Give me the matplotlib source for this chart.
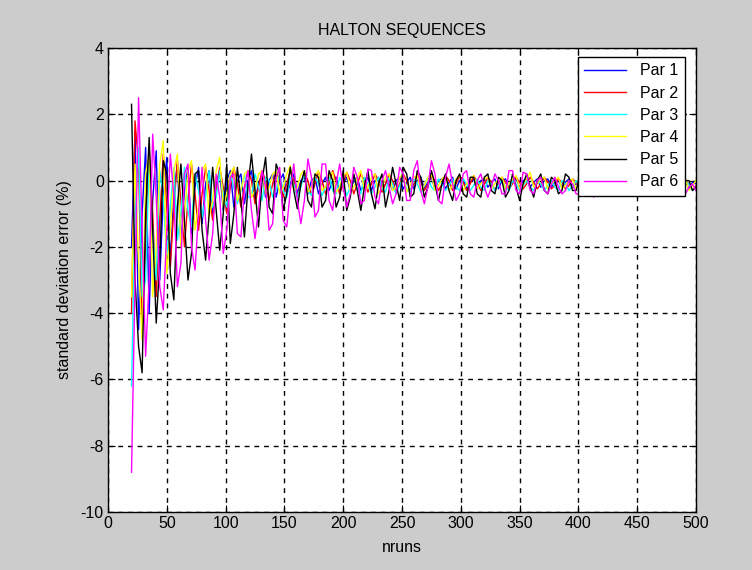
import numpy as np
import matplotlib
matplotlib.use("Agg")
import matplotlib.pyplot as plt

plt.rcParams['font.family'] = ['Liberation Sans', 'DejaVu Sans']
plt.rcParams['axes.unicode_minus'] = False

# run counts sampled every 3 runs from 20 to 500
nruns = list(range(20, 501, 3))

par1 = [
    -2.0, 1.5, -4.5, -1.0, 1.0, -4.0, -0.6, 0.9, -3.0, -0.5,
    0.7, -2.5, -0.4, 0.5, -2.0, -0.3, 0.4, -1.6, -0.2, 0.4,
    -1.3, -0.1, 0.3, -1.1, -0.1, 0.3, -0.9, 0.0, 0.3, -0.8,
    0.0, 0.2, -0.7, 0.0, 0.3, -0.6, -0.1, 0.2, -0.5, 0.0,
    0.2, -0.5, 0.0, 0.2, -0.4, -0.1, 0.2, -0.4, 0.0, 0.1,
    -0.4, 0.0, 0.1, -0.4, -0.1, 0.1, -0.3, 0.0, 0.1, -0.3,
    -0.1, 0.1, -0.3, 0.0, 0.1, -0.3, -0.1, 0.1, -0.3, 0.0,
    0.1, -0.3, -0.1, 0.1, -0.3, 0.0, 0.1, -0.25, -0.05, 0.1,
    -0.25, 0.0, 0.1, -0.25, -0.05, 0.1, -0.25, 0.0, 0.05, -0.25,
    -0.05, 0.1, -0.25, 0.0, 0.05, -0.25, -0.05, 0.05, -0.25, 0.0,
    0.05, -0.2, -0.05, 0.05, -0.25, 0.0, 0.05, -0.2, -0.05, 0.05,
    -0.2, 0.0, 0.05, -0.2, -0.05, 0.05, -0.2, 0.0, 0.05, -0.2,
    -0.05, 0.0, -0.2, -0.05, 0.05, -0.2, -0.1, 0.0, -0.2, -0.05,
    0.0, -0.2, -0.1, 0.0, -0.25, -0.05, 0.0, -0.2, -0.1, 0.0,
    -0.25, -0.05, 0.0, -0.2, -0.1, 0.0, -0.25, -0.05, 0.0, -0.2,
    -0.1, 0.0, -0.25, -0.05, 0.0, -0.2, -0.1, 0.0, -0.25, -0.05,
    -0.1,
]

par2 = [
    -4.0, 1.8, 0.5, -4.5, -2.0, 0.9, -1.0, -3.5, -1.2, 0.8,
    -0.8, -2.6, -0.8, 0.6, -0.6, -2.0, -0.6, 0.5, -0.4, -1.5,
    -0.4, 0.4, -0.3, -1.2, -0.3, 0.4, -0.2, -1.0, -0.2, 0.4,
    -0.1, -0.8, -0.2, 0.3, 0.0, -0.7, -0.2, 0.3, 0.0, -0.6,
    -0.1, 0.3, 0.0, -0.5, -0.1, 0.3, 0.0, -0.5, -0.1, 0.25,
    0.0, -0.45, -0.1, 0.25, 0.0, -0.4, -0.1, 0.3, 0.0, -0.4,
    -0.1, 0.25, 0.0, -0.4, -0.1, 0.2, 0.0, -0.35, -0.1, 0.2,
    0.0, -0.35, -0.1, 0.2, 0.0, -0.35, -0.1, 0.2, 0.0, -0.3,
    -0.1, 0.2, 0.0, -0.3, -0.1, 0.15, 0.0, -0.3, -0.1, 0.15,
    0.0, -0.3, -0.1, 0.15, -0.05, -0.3, -0.1, 0.15, -0.05, -0.3,
    -0.1, 0.1, -0.05, -0.3, -0.1, 0.1, -0.05, -0.25, -0.1, 0.1,
    -0.05, -0.25, -0.1, 0.1, -0.05, -0.25, -0.1, 0.1, -0.05, -0.25,
    -0.15, 0.05, -0.05, -0.25, -0.15, 0.05, -0.05, -0.25, -0.15, 0.05,
    -0.1, -0.3, -0.15, 0.05, -0.1, -0.3, -0.15, 0.05, -0.1, -0.3,
    -0.15, 0.0, -0.1, -0.3, -0.15, 0.0, -0.1, -0.3, -0.15, 0.0,
    -0.1, -0.3, -0.15, 0.0, -0.1, -0.3, -0.15, 0.0, -0.1, -0.3,
    -0.15,
]

par3 = [
    -6.2, -1.0, 1.0, -3.5, -3.0, 0.6, -1.5, -3.0, 0.3, -0.5,
    -2.3, -0.8, 0.4, -1.8, -1.0, 0.4, -0.9, -1.4, 0.2, -0.3,
    -1.1, -0.5, 0.3, -0.8, -0.5, 0.3, -0.4, -0.8, 0.2, -0.2,
    -0.7, -0.3, 0.2, -0.5, -0.5, 0.2, -0.2, -0.6, 0.1, 0.0,
    -0.5, -0.3, 0.2, -0.3, -0.5, 0.1, -0.1, -0.5, -0.2, 0.2,
    -0.3, -0.45, 0.1, -0.1, -0.45, -0.2, 0.15, -0.3, -0.4, 0.1,
    -0.1, -0.45, -0.2, 0.15, -0.25, -0.4, 0.1, -0.1, -0.4, -0.2,
    0.1, -0.25, -0.35, 0.1, -0.1, -0.4, -0.15, 0.1, -0.25, -0.35,
    0.05, -0.1, -0.35, -0.15, 0.1, -0.2, -0.3, 0.05, -0.1, -0.3,
    -0.15, 0.05, -0.2, -0.3, 0.05, -0.1, -0.3, -0.15, 0.05, -0.2,
    -0.3, 0.0, -0.1, -0.3, -0.15, 0.05, -0.2, -0.3, 0.0, -0.1,
    -0.3, -0.15, 0.0, -0.2, -0.3, 0.0, -0.1, -0.3, -0.15, 0.0,
    -0.2, -0.3, 0.0, -0.1, -0.3, -0.15, 0.0, -0.2, -0.3, -0.05,
    -0.1, -0.3, -0.2, 0.0, -0.2, -0.35, -0.05, -0.1, -0.3, -0.2,
    0.0, -0.2, -0.35, -0.05, -0.1, -0.3, -0.2, 0.0, -0.2, -0.35,
    -0.05, -0.1, -0.3, -0.2, 0.0, -0.2, -0.35, -0.05, -0.1, -0.3,
    -0.2,
]

par4 = [
    -3.5, 0.5, -2.5, -4.8, 0.2, 0.8, -3.5, -2.0, 0.5, 1.2,
    -2.8, -1.5, 0.3, 0.8, -2.0, -1.0, 0.3, 0.6, -1.5, -0.8,
    0.3, 0.5, -1.1, -0.6, 0.3, 0.7, -0.8, -0.4, 0.2, 0.4,
    -0.6, -0.3, 0.2, 0.3, -0.5, -0.3, 0.2, 0.3, -0.4, -0.2,
    0.2, 0.3, -0.4, -0.2, 0.2, 0.45, -0.3, -0.2, 0.2, 0.3,
    -0.35, -0.2, 0.15, 0.3, -0.3, -0.2, 0.15, 0.25, -0.35, -0.2,
    0.15, 0.25, -0.3, -0.2, 0.1, 0.3, -0.3, -0.2, 0.1, 0.2,
    -0.4, -0.2, 0.1, 0.2, -0.3, -0.2, 0.1, 0.2, -0.35, -0.15,
    0.1, 0.15, -0.3, -0.15, 0.1, 0.2, -0.3, -0.15, 0.05, 0.15,
    -0.3, -0.15, 0.05, 0.15, -0.3, -0.1, 0.05, 0.15, -0.25, -0.1,
    0.05, 0.1, -0.25, -0.1, 0.05, 0.1, -0.25, -0.1, 0.05, 0.15,
    -0.25, -0.1, 0.05, 0.25, -0.2, -0.1, 0.05, 0.1, -0.25, -0.1,
    0.0, 0.1, -0.25, -0.15, 0.0, 0.05, -0.25, -0.15, 0.0, 0.05,
    -0.25, -0.15, 0.0, 0.05, -0.25, -0.15, 0.0, 0.05, -0.3, -0.15,
    0.0, 0.05, -0.3, -0.15, 0.0, 0.05, -0.3, -0.15, 0.0, 0.05,
    -0.3, -0.15, 0.0, 0.05, -0.3, -0.15, 0.0, 0.05, -0.3, -0.15,
    0.0,
]

par5 = [
    2.3, -3.0, -5.0, -5.8, -1.0, 1.3, -1.5, -4.3, -2.5, 0.6,
    0.2, -2.8, -3.6, -0.8, 0.5, -1.2, -3.0, -2.2, 0.2, 0.3,
    -1.5, -2.4, -1.0, 0.4, -0.9, -2.1, -1.0, 0.5, -1.9, -1.0,
    0.4, -0.6, -1.7, -0.2, 0.8, -0.3, -1.4, 0.0, 0.7, -0.8,
    -1.0, 0.5, 0.2, -0.9, -0.4, 0.4, -0.3, -0.85, -0.1, 0.3,
    -0.6, -0.8, 0.2, 0.1, -0.8, -0.6, 0.3, 0.0, -0.8, -0.5,
    0.3, -0.9, -0.5, 0.2, -0.3, -0.9, -0.2, 0.3, -0.4, -0.85,
    -0.1, 0.2, -0.8, -0.3, 0.4, -0.1, -0.6, 0.4, 0.2, -0.5,
    -0.4, 0.3, 0.1, -0.5, -0.2, 0.3, -0.1, -0.6, -0.1, 0.2,
    -0.3, -0.6, 0.0, 0.2, -0.4, -0.5, 0.1, 0.1, -0.4, -0.5,
    0.1, 0.2, -0.3, -0.4, 0.1, 0.0, -0.5, -0.3, 0.2, -0.2,
    -0.6, -0.1, 0.2, -0.2, -0.5, 0.0, 0.2, -0.3, -0.4, 0.1,
    0.0, -0.4, -0.3, 0.2, 0.1, -0.3, -0.3, 0.1, 0.1, -0.3,
    -0.3, 0.1, 0.0, -0.3, -0.2, 0.1, -0.1, -0.3, -0.1, 0.1,
    -0.2, -0.3, 0.0, 0.1, -0.3, -0.3, 0.0, 0.0, -0.3, -0.2,
    0.1, -0.1, -0.3, -0.1, 0.1, -0.2, -0.3, 0.0, 0.0, -0.3,
    -0.2,
]

par6 = [
    -8.8, -3.0, 2.5, -1.5, -5.3, -3.0, 1.4, -0.5, -3.2, -3.9,
    -1.5, 0.8, -0.5, -3.2, -2.5, 0.2, 0.5, -2.0, -2.7, -1.0,
    0.4, -1.2, -2.4, -1.6, 0.2, -0.5, -2.2, -1.5, 0.1, 0.2,
    -1.6, -1.7, -0.3, 0.3, -0.9, -1.75, -0.9, 0.3, -0.2, -1.5,
    -1.3, 0.1, 0.4, -1.2, -1.4, -0.3, 0.5, -0.6, -1.3, -0.6,
    0.65, 0.1, -1.1, -0.9, 0.5, 0.5, -0.6, -0.9, -0.1, 0.5,
    -0.2, -0.8, -0.4, 0.4, 0.1, -0.7, -0.6, 0.35, 0.3, -0.5,
    -0.7, 0.0, 0.3, -0.2, -0.7, -0.4, 0.4, 0.2, -0.6, -0.6,
    0.3, 0.6, -0.3, -0.7, -0.2, 0.6, 0.2, -0.6, -0.7, 0.1,
    0.5, -0.1, -0.6, -0.4, 0.2, 0.3, -0.4, -0.5, 0.0, 0.2,
    -0.2, -0.5, -0.2, 0.2, 0.0, -0.4, -0.4, 0.3, 0.3, -0.3,
    -0.4, 0.25, 0.2, -0.3, -0.4, 0.0, 0.1, -0.3, -0.4, -0.1,
    0.1, -0.2, -0.4, -0.3, 0.0, -0.1, -0.4, -0.4, -0.1, 0.0,
    -0.3, -0.5, -0.3, -0.1, -0.2, -0.4, -0.4, -0.1, -0.1, -0.4,
    -0.4, -0.2, -0.1, -0.3, -0.45, -0.3, -0.1, -0.2, -0.4, -0.4,
    -0.2, -0.1, -0.3, -0.4, -0.2, -0.1, -0.3, -0.4, -0.2, -0.1,
    -0.3,
]

series = [par1, par2, par3, par4, par5, par6]
labels = ["Par 1", "Par 2", "Par 3", "Par 4", "Par 5", "Par 6"]
colors = ["#0000ff", "#ff0000", "#00ffff", "#ffff00", "#000000", "#ff00ff"]

x_ticks = [0, 50, 100, 150, 200, 250, 300, 350, 400, 450, 500]
y_ticks = [-10, -8, -6, -4, -2, 0, 2, 4]

fig = plt.figure(figsize=(7.52, 5.70), dpi=100, facecolor="#cccccc")
ax = fig.add_axes([108/752, 58/570, 588/752, 464/570])
ax.set_facecolor("white")

for vals, lab, col in zip(series, labels, colors):
    ax.plot(nruns[:len(vals)], vals, color=col, lw=1.0, label=lab)

ax.set_xlim(0, 500)
ax.set_ylim(-10, 4)
ax.set_xticks(x_ticks)
ax.set_yticks(y_ticks)
ax.tick_params(direction="in", length=5, top=True, right=True, labelsize=11.5,
               width=0.8, pad=3)
ax.grid(True, color="black", linestyle=(0, (3.5, 3.5)), linewidth=1.0)
for sp in ax.spines.values():
    sp.set_linewidth(1.0)
    sp.set_color("black")

ax.set_title("HALTON SEQUENCES", fontsize=11.5, pad=9)
ax.set_xlabel("nruns", fontsize=11.5, labelpad=6)
ax.set_ylabel("standard deviation error (%)", fontsize=11.5, labelpad=6)

leg = ax.legend(loc="upper right", bbox_to_anchor=(685/752, 1 - 57/570),
                bbox_transform=fig.transFigure, fontsize=11.5, frameon=True,
                fancybox=False, framealpha=1.0, edgecolor="black",
                borderaxespad=0, handlelength=2.6, handletextpad=0.9,
                labelspacing=0.45, borderpad=0.4)
leg.get_frame().set_linewidth(1.0)

fig.savefig("out.png", dpi=100, facecolor=fig.get_facecolor())
